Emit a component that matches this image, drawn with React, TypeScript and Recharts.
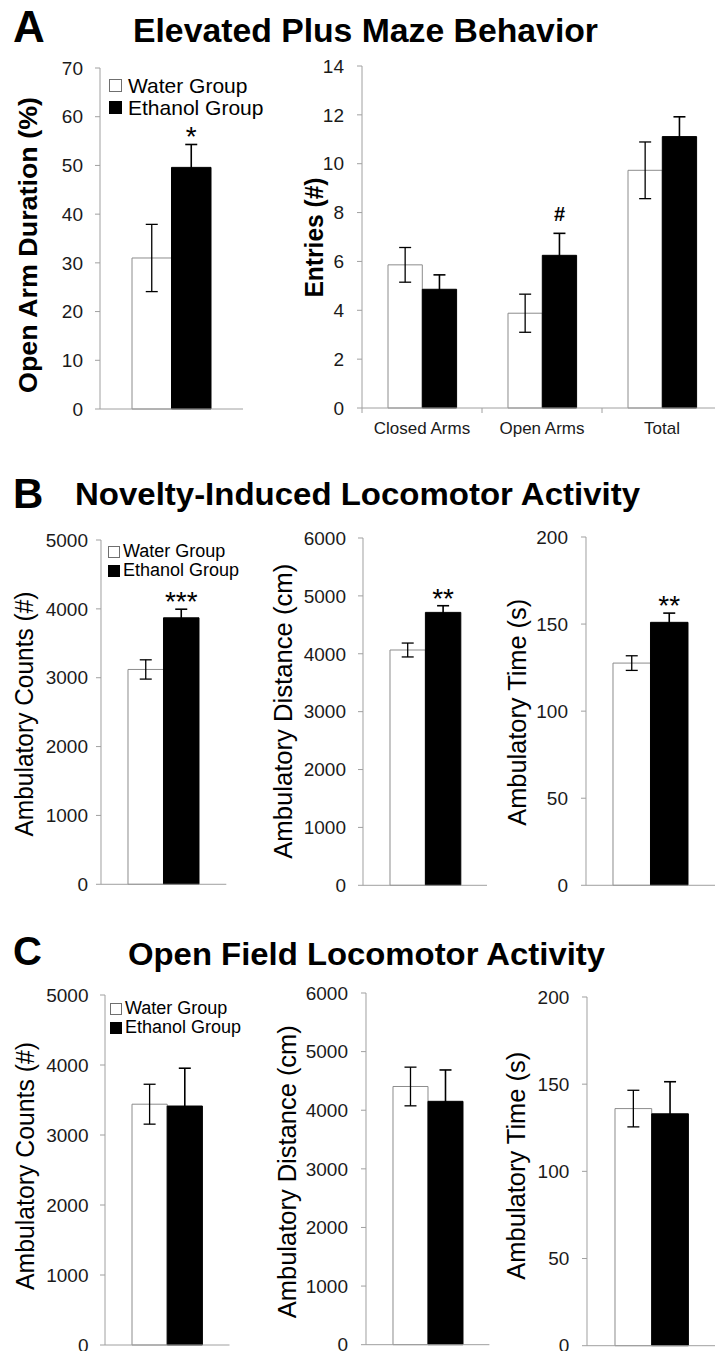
import React from 'react';
import { BarChart, Bar, XAxis, YAxis, ErrorBar, Legend, LabelList } from 'recharts';

const FONT = '"Liberation Sans", Arial, Helvetica, sans-serif';
const AXIS = '#a0a0a0';

// ---------- data ----------
const seriesNames = ['Water Group', 'Ethanol Group'];

const epmDurationCategories = ['Open Arm Duration'];
const epmDurationWater = [31.0];
const epmDurationWaterErr = [6.9];
const epmDurationEthanol = [49.6];
const epmDurationEthanolErr = [4.7];
const epmDurationMarkers = ['*'];
const epmDurationTicks = [0, 10, 20, 30, 40, 50, 60, 70];

const epmEntriesCategories = ['Closed Arms', 'Open Arms', 'Total'];
const epmEntriesWater = [5.86, 3.88, 9.73];
const epmEntriesWaterErr = [0.71, 0.78, 1.16];
const epmEntriesEthanol = [4.86, 6.25, 11.11];
const epmEntriesEthanolErr = [0.59, 0.9, 0.81];
const epmEntriesMarkers = ['', '#', ''];
const epmEntriesTicks = [0, 2, 4, 6, 8, 10, 12, 14];

const singleCategory = ['Activity'];
const countTicks = [0, 1000, 2000, 3000, 4000, 5000];
const distanceTicks = [0, 1000, 2000, 3000, 4000, 5000, 6000];
const timeTicks = [0, 50, 100, 150, 200];

const novCountsWater = [3120];
const novCountsWaterErr = [140];
const novCountsEthanol = [3870];
const novCountsEthanolErr = [125];
const novCountsMarkers = ['***'];

const novDistanceWater = [4065];
const novDistanceWaterErr = [120];
const novDistanceEthanol = [4715];
const novDistanceEthanolErr = [115];
const novDistanceMarkers = ['**'];

const novTimeWater = [127.6];
const novTimeWaterErr = [4.2];
const novTimeEthanol = [151];
const novTimeEthanolErr = [5.3];
const novTimeMarkers = ['**'];

const ofCountsWater = [3440];
const ofCountsWaterErr = [285];
const ofCountsEthanol = [3414];
const ofCountsEthanolErr = [540];

const ofDistanceWater = [4405];
const ofDistanceWaterErr = [330];
const ofDistanceEthanol = [4152];
const ofDistanceEthanolErr = [535];

const ofTimeWater = [136];
const ofTimeWaterErr = [10.5];
const ofTimeEthanol = [133];
const ofTimeEthanolErr = [18.4];

const noMarkers = [''];

// ---------- layout ----------
type LegendCfg = { x: number; y: number; font: number; row: number; sq: number; gap: number };
type PanelCfg = {
  categories: string[];
  water: number[];
  waterErr: number[];
  ethanol: number[];
  ethanolErr: number[];
  markers: string[];
  ticks: number[];
  yLabel: string;
  left: number;
  top: number;
  right: number;
  bottom: number;
  barSize: number;
  labelCx: number;
  labelCy: number;
  labelLen: number;
  labelBold: boolean;
  tickGap: number;
  catTicks?: boolean;
  legend?: LegendCfg;
};

const panels: PanelCfg[] = [
  {
    categories: epmDurationCategories, water: epmDurationWater, waterErr: epmDurationWaterErr,
    ethanol: epmDurationEthanol, ethanolErr: epmDurationEthanolErr, markers: epmDurationMarkers,
    ticks: epmDurationTicks, yLabel: 'Open Arm Duration (%)',
    left: 100, top: 68, right: 243, bottom: 409, barSize: 39.5,
    labelCx: 27.5, labelCy: 245, labelLen: 296, labelBold: true, tickGap: 17,
    legend: { x: 109, y: 74.5, font: 21, row: 22, sq: 13, gap: 6 },
  },
  {
    categories: epmEntriesCategories, water: epmEntriesWater, waterErr: epmEntriesWaterErr,
    ethanol: epmEntriesEthanol, ethanolErr: epmEntriesEthanolErr, markers: epmEntriesMarkers,
    ticks: epmEntriesTicks, yLabel: 'Entries (#)',
    left: 362, top: 65.5, right: 722, bottom: 407.5, barSize: 34.3,
    labelCx: 313.5, labelCy: 237, labelLen: 120, labelBold: true, tickGap: 18, catTicks: true,
  },
  {
    categories: singleCategory, water: novCountsWater, waterErr: novCountsWaterErr,
    ethanol: novCountsEthanol, ethanolErr: novCountsEthanolErr, markers: novCountsMarkers,
    ticks: countTicks, yLabel: 'Ambulatory Counts (#)',
    left: 100.7, top: 540, right: 226, bottom: 884.3, barSize: 35.5,
    labelCx: 24, labelCy: 714, labelLen: 245, labelBold: false, tickGap: 13,
    legend: { x: 108, y: 542, font: 18, row: 19, sq: 12, gap: 3 },
  },
  {
    categories: singleCategory, water: novDistanceWater, waterErr: novDistanceWaterErr,
    ethanol: novDistanceEthanol, ethanolErr: novDistanceEthanolErr, markers: novDistanceMarkers,
    ticks: distanceTicks, yLabel: 'Ambulatory Distance (cm)',
    left: 362.7, top: 537.7, right: 486.7, bottom: 885, barSize: 35.4,
    labelCx: 283, labelCy: 711, labelLen: 295, labelBold: false, tickGap: 17,
  },
  {
    categories: singleCategory, water: novTimeWater, waterErr: novTimeWaterErr,
    ethanol: novTimeEthanol, ethanolErr: novTimeEthanolErr, markers: novTimeMarkers,
    ticks: timeTicks, yLabel: 'Ambulatory Time (s)',
    left: 586, top: 536.7, right: 715.6, bottom: 885, barSize: 37.5,
    labelCx: 517, labelCy: 712, labelLen: 227, labelBold: false, tickGap: 18,
  },
  {
    categories: singleCategory, water: ofCountsWater, waterErr: ofCountsWaterErr,
    ethanol: ofCountsEthanol, ethanolErr: ofCountsEthanolErr, markers: noMarkers,
    ticks: countTicks, yLabel: 'Ambulatory Counts (#)',
    left: 104.5, top: 995, right: 229, bottom: 1345, barSize: 35.2,
    labelCx: 24, labelCy: 1166, labelLen: 248, labelBold: false, tickGap: 16.5,
    legend: { x: 110, y: 999, font: 18, row: 19, sq: 12, gap: 3 },
  },
  {
    categories: singleCategory, water: ofDistanceWater, waterErr: ofDistanceWaterErr,
    ethanol: ofDistanceEthanol, ethanolErr: ofDistanceEthanolErr, markers: noMarkers,
    ticks: distanceTicks, yLabel: 'Ambulatory Distance (cm)',
    left: 366, top: 993.3, right: 489.4, bottom: 1345, barSize: 35,
    labelCx: 287.5, labelCy: 1172, labelLen: 293, labelBold: false, tickGap: 18,
  },
  {
    categories: singleCategory, water: ofTimeWater, waterErr: ofTimeWaterErr,
    ethanol: ofTimeEthanol, ethanolErr: ofTimeEthanolErr, markers: noMarkers,
    ticks: timeTicks, yLabel: 'Ambulatory Time (s)',
    left: 586.7, top: 997.3, right: 716.7, bottom: 1346, barSize: 36.7,
    labelCx: 516, labelCy: 1166, labelLen: 228, labelBold: false, tickGap: 17.7,
  },
];

const YW = 100;
const MT = 30;
const MR = 12;
const XH = 40;

function Panel({ p }: { p: PanelCfg }) {
  const data = p.categories.map((c, i) => ({
    category: c,
    water: p.water[i],
    waterErr: p.waterErr[i],
    ethanol: p.ethanol[i],
    ethanolErr: p.ethanolErr[i],
    marker: p.markers[i],
  }));
  const plotW = p.right - p.left;
  const plotH = p.bottom - p.top;
  const boxLeft = p.left - YW;
  const boxTop = p.top - MT;
  const width = YW + plotW + MR;
  const height = MT + plotH + XH;
  const axisY = MT + plotH;
  const band = plotW / p.categories.length;
  const max = p.ticks[p.ticks.length - 1];

  const renderYLabel = () => {
    const lx = YW - (p.left - p.labelCx);
    const ly = MT + (p.labelCy - p.top);
    return (
      <text
        x={lx}
        y={ly}
        transform={`rotate(-90, ${lx}, ${ly})`}
        textAnchor="middle"
        dominantBaseline="central"
        fontSize={25}
        fontWeight={p.labelBold ? 700 : 400}
        fontFamily={FONT}
        fill="#000"
        textLength={p.labelLen}
        lengthAdjust="spacingAndGlyphs"
      >
        {p.yLabel}
      </text>
    );
  };

  const renderCatTick = (props: any) => {
    const { payload, index } = props;
    const cx = payload && payload.coordinate != null ? payload.coordinate : props.x;
    return (
      <g>
        <line x1={cx - band / 2} x2={cx - band / 2} y1={axisY} y2={axisY + 5} stroke={AXIS} />
        {index === p.categories.length - 1 && (
          <line x1={cx + band / 2} x2={cx + band / 2} y1={axisY} y2={axisY + 5} stroke={AXIS} />
        )}
        <text x={cx} y={axisY + 20} dy="0.355em" textAnchor="middle" fontSize={17} fontFamily={FONT} fill="#1a1a1a">
          {payload.value}
        </text>
      </g>
    );
  };

  const renderMarker = (props: any) => {
    const txt = props.value;
    if (!txt) return null;
    const vb = props.viewBox && props.viewBox.x != null ? props.viewBox : props;
    const { x, y, width: w, height: h } = vb;
    const idx = props.index != null ? props.index : data.findIndex((d) => d.marker === txt);
    const d = data[idx];
    const errTop = y - d.ethanolErr * (h / d.ethanol);
    const isHash = txt === '#';
    return (
      <text
        x={x + w / 2}
        y={errTop + (isHash ? -12 : 2)}
        textAnchor="middle"
        fontSize={isHash ? 20 : 28}
        fontWeight={isHash ? 700 : 400}
        fontFamily={FONT}
        fill="#000"
      >
        {txt}
      </text>
    );
  };

  const lg = p.legend;
  const renderLegend = (props: any) => {
    if (!lg) return null;
    const raw = props.payload && props.payload.length ? props.payload : seriesNames.map((n) => ({ value: n }));
    const items = [...raw].sort((a: any, b: any) => seriesNames.indexOf(a.value) - seriesNames.indexOf(b.value));
    return (
      <div style={{ fontFamily: FONT, fontSize: lg.font, lineHeight: `${lg.row}px`, color: '#000' }}>
        {items.map((it: any, i: number) => (
          <div key={i} style={{ display: 'flex', alignItems: 'center', whiteSpace: 'nowrap', height: lg.row }}>
            <span
              style={{
                display: 'inline-block',
                width: lg.sq,
                height: lg.sq,
                boxSizing: 'border-box',
                background: it.color || (i === 0 ? '#fff' : '#000'),
                border: `1px solid ${i === 0 ? '#6f6f6f' : '#000'}`,
                marginRight: lg.gap,
              }}
            />
            <span>{it.value}</span>
          </div>
        ))}
      </div>
    );
  };

  return (
    <div style={{ position: 'absolute', left: boxLeft, top: boxTop, width, height }}>
      <BarChart width={width} height={height} data={data} margin={{ top: MT, right: MR, bottom: 0, left: 0 }} barGap={0}>
        <XAxis
          dataKey="category"
          height={XH}
          axisLine={{ stroke: AXIS }}
          tickLine={false}
          tick={p.catTicks ? renderCatTick : false}
          interval={0}
        />
        <YAxis
          width={YW}
          domain={[0, max]}
          ticks={p.ticks}
          interval={0}
          tickSize={5}
          tickMargin={p.tickGap - 5}
          axisLine={{ stroke: AXIS }}
          tickLine={{ stroke: AXIS }}
          tick={{ fill: '#1a1a1a', fontSize: 19, fontFamily: FONT }}
          label={renderYLabel}
        />
        <Bar dataKey="water" name={seriesNames[0]} fill="#ffffff" stroke="#8c8c8c" barSize={p.barSize} isAnimationActive={false}>
          <ErrorBar dataKey="waterErr" width={6} stroke="#000" strokeWidth={1.3} direction="y" />
        </Bar>
        <Bar dataKey="ethanol" name={seriesNames[1]} fill="#000000" stroke="#000" barSize={p.barSize} isAnimationActive={false}>
          <ErrorBar dataKey="ethanolErr" width={6} stroke="#000" strokeWidth={1.6} direction="y" />
          <LabelList dataKey="marker" content={renderMarker} />
        </Bar>
        {lg && (
          <Legend
            layout="vertical"
            align="center"
            verticalAlign="middle"
            content={renderLegend}
            wrapperStyle={{ left: lg.x - boxLeft, top: lg.y - boxTop, width: 'auto', height: 'auto' }}
          />
        )}
      </BarChart>
    </div>
  );
}

const headings = [
  { letter: 'A', letterY: 42, letterSize: 44, title: 'Elevated Plus Maze Behavior', tx: 133, ty: 42, tsize: 33, tlen: 465 },
  { letter: 'B', letterY: 508, letterSize: 42, title: 'Novelty-Induced Locomotor Activity', tx: 75, ty: 505, tsize: 32, tlen: 565 },
  { letter: 'C', letterY: 965, letterSize: 40, title: 'Open Field Locomotor Activity', tx: 128, ty: 965, tsize: 32, tlen: 477 },
];

export default function App() {
  return (
    <div style={{ position: 'relative', width: 715, height: 1351, overflow: 'hidden', background: '#fff' }}>
      <style>{'body{margin:0;}'}</style>
      <svg width={715} height={1351} style={{ position: 'absolute', left: 0, top: 0 }}>
        {headings.map((h) => (
          <g key={h.letter}>
            <text x={13} y={h.letterY} fontFamily={FONT} fontWeight={700} fontSize={h.letterSize} fill="#000">
              {h.letter}
            </text>
            <text
              x={h.tx}
              y={h.ty}
              fontFamily={FONT}
              fontWeight={700}
              fontSize={h.tsize}
              fill="#000"
              textLength={h.tlen}
              lengthAdjust="spacingAndGlyphs"
            >
              {h.title}
            </text>
          </g>
        ))}
      </svg>
      {panels.map((p, i) => (
        <Panel key={i} p={p} />
      ))}
    </div>
  );
}
